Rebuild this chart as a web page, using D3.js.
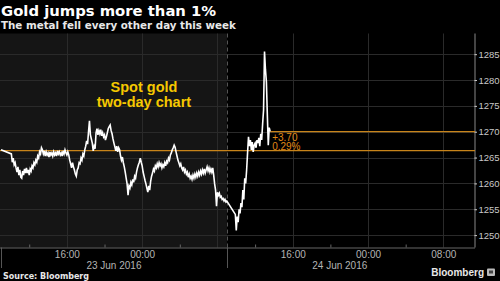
<!DOCTYPE html>
<html><head><meta charset="utf-8">
<script src="https://cdn.jsdelivr.net/npm/d3@7"></script>
<style>html,body{margin:0;padding:0;background:#000;}svg{display:block;}</style>
</head><body>
<script>
// ---- data ----
const title = "Gold jumps more than 1%";
const subtitle = "The metal fell every other day this week";
const source = "Source: Bloomberg";
const annotation = ["Spot gold", "two-day chart"];
const startTime = "2016-06-23 09:00";
const stepMinutes = 6;
const prices = [
1266.5,null,null,null,null,null,null,null,null,null,
null,1265.7,1264.1,1264.9,1263.6,1264.0,1263.0,1262.2,1263.2,1261.6,
1262.6,1261.2,1261.0,1262.4,1261.6,1262.8,1262.0,1263.0,1262.0,1262.6,
1261.6,1262.8,1262.4,1263.4,1263.0,1264.0,1263.6,1264.5,1264.1,1265.3,
1264.9,1266.1,1265.7,1266.9,1266.5,1265.7,1266.3,1265.3,1266.1,1265.5,
1265.9,1265.1,1266.1,1265.5,1265.9,1265.3,1266.1,1265.5,1265.9,1265.3,
1266.3,1265.7,1266.1,1265.5,1265.9,1265.3,1266.3,1265.7,1266.5,1265.9,
1265.5,1266.1,1265.5,1264.5,1263.8,1263.0,1264.0,1263.2,1262.6,1261.8,
1261.4,1262.6,1263.0,1264.0,1263.8,1264.9,1264.5,1265.7,1265.3,1266.5,
1267.2,1268.2,1267.6,1270.0,1272.1,1269.4,1268.6,1267.8,1266.3,1267.2,
1266.7,1269.8,1270.6,1269.4,1270.2,1269.6,1270.4,1269.2,1269.8,1269.0,
1269.4,1268.4,1269.0,1269.8,1270.6,1271.0,1271.3,1270.2,1269.6,1268.6,
1267.8,1267.1,1266.3,1267.2,1266.1,1266.9,1266.5,1265.3,1264.5,1265.1,
1264.0,1263.2,1262.2,1261.0,1259.9,1257.7,1259.5,1259.1,1260.2,1259.7,
1260.8,1260.2,1261.4,1261.0,1262.2,1263.0,1263.6,1264.1,1264.9,1264.1,
1263.4,1262.2,1261.4,1260.6,1259.9,1259.1,1258.3,1259.5,1258.7,1260.4,
1261.4,1262.0,1262.8,1262.4,1263.4,1263.0,1263.8,1263.2,1264.0,1263.4,
1263.8,1263.0,1263.6,1263.2,1264.0,1263.4,1264.3,1264.0,1264.9,1264.5,
1265.5,1265.9,1266.5,1266.9,1267.4,1267.0,1266.1,1265.3,1264.5,1264.0,
1263.4,1263.8,1263.0,1262.6,1263.2,1262.2,1262.6,1261.8,1262.2,1261.2,
1261.8,1261.0,1261.4,1260.8,1261.6,1261.0,1261.8,1261.2,1262.0,1261.4,
1262.2,1261.6,1262.4,1261.8,1262.6,1262.0,1262.8,1262.0,1262.6,1263.2,
1262.4,1263.0,1262.2,1262.8,1262.2,1263.0,1261.6,1259.9,1258.7,1255.6,
1258.3,1257.7,1258.1,1257.3,1257.5,1256.9,1257.1,1256.6,1256.9,1256.4,
1256.6,null,null,null,null,null,null,null,null,1254.0,
1250.9,1253.6,1252.5,1255.0,1254.2,1256.2,1255.4,1258.7,1256.9,1261.0,
1260.0,1262.6,1265.9,1269.0,1267.2,1268.4,1266.5,1268.0,1266.1,1267.4,
1267.8,1266.9,1268.4,1267.8,1268.8,1267.2,1269.6,1268.4,1271.5,1274.2,
1285.5,1282.0,1279.7,1273.3,1267.4,1270.8,1270.03
];
const prevClose = 1266.33;
const yTicks = [1250, 1255, 1260, 1265, 1270, 1275, 1280, 1285];
const xDomain = ["2016-06-23 09:00", "2016-06-25 11:22"];
const majorTicks = ["2016-06-23 16:00","2016-06-24 00:00","2016-06-24 08:00","2016-06-24 16:00","2016-06-25 00:00","2016-06-25 08:00"];
const majorLabels = ["16:00","00:00","","16:00","00:00","08:00"];
const minorTicks = ["2016-06-23 12:00","2016-06-23 20:00","2016-06-24 04:00","2016-06-24 12:00","2016-06-24 20:00","2016-06-25 04:00"];
const sessionLabels = ["23 Jun 2016", "24 Jun 2016"];
const sessionStarts = ["2016-06-23 09:00", "2016-06-24 09:00"];
const sessionEnds = ["2016-06-24 09:00", "2016-06-25 09:00"];

// ---- drawing ----
const W = 500, H = 281;
const pTop = 33.5, pBottom = 247.5, pLeft = 1, pRight = 475;
const parse = d3.timeParse("%Y-%m-%d %H:%M");
const t0 = parse(startTime);
const data = prices.map((v, i) => ({t: new Date(t0.getTime() + i * stepMinutes * 60000), v}))
  .filter(d => d.v !== null);
const last = data[data.length - 1];

const x = d3.scaleTime().domain(xDomain.map(parse)).range([pLeft, pRight]);
const y = d3.scaleLinear().domain([1247.6, 1289]).range([pBottom, pTop]);

const svg = d3.select("body").append("svg").attr("width", W).attr("height", H)
  .style("background", "#000");

const LBL = "'Liberation Sans', Arial, sans-serif";
const HDR = "'DejaVu Sans', sans-serif";
const crisp = v => Math.round(v) + 0.5;

// previous session background
svg.append("rect").attr("x", 0).attr("y", pTop)
  .attr("width", x(parse(sessionEnds[0]))).attr("height", pBottom - pTop)
  .attr("fill", "#151515");

// horizontal grid
svg.append("g").selectAll("line").data(yTicks).join("line")
  .attr("x1", 0).attr("x2", pRight).attr("y1", d => crisp(y(d))).attr("y2", d => crisp(y(d)))
  .attr("stroke", "#2a2a2a").attr("stroke-width", 1);
// vertical grid
svg.append("g").selectAll("line").data(majorTicks).join("line")
  .attr("x1", d => crisp(x(parse(d)))).attr("x2", d => crisp(x(parse(d))))
  .attr("y1", pTop).attr("y2", pBottom)
  .attr("stroke", "#2a2a2a").attr("stroke-width", 1);

// session divider
const xs = crisp(x(parse(sessionStarts[1])));
svg.append("line").attr("x1", xs).attr("x2", xs).attr("y1", pTop).attr("y2", pBottom)
  .attr("stroke", "#555").attr("stroke-dasharray", "4,3");
[crisp(x(parse(sessionStarts[0]))), xs].forEach(xx => {
  svg.append("line").attr("x1", xx).attr("x2", xx).attr("y1", pBottom).attr("y2", 268)
    .attr("stroke", "#555");
});

// x axis
const gx = svg.append("g").attr("transform", `translate(0,${pBottom})`)
  .call(d3.axisBottom(x).tickValues(majorTicks.map(parse))
    .tickFormat((d, i) => majorLabels[i]).tickSize(0).tickPadding(3));
gx.select(".domain").attr("stroke", "#666").attr("d", `M0,0.5H${pRight}`);
gx.selectAll("text").attr("fill", "#b4b4b4").style("font", `10px ${LBL}`);
const gm = svg.append("g").attr("transform", `translate(0,${pBottom})`)
  .call(d3.axisBottom(x).tickValues(minorTicks.map(parse)).tickSize(-3).tickFormat(""));
gm.select(".domain").remove();
gm.selectAll("line").attr("stroke", "#666");

// session date labels
svg.append("g").selectAll("text").data(sessionLabels).join("text")
  .attr("x", (d, i) => (x(parse(sessionStarts[i])) + x(parse(sessionEnds[i]))) / 2)
  .attr("y", 268.5).attr("text-anchor", "middle")
  .attr("fill", "#b4b4b4").style("font", `10px ${LBL}`).text(d => d);

// y axis (right)
const gy = svg.append("g").attr("transform", `translate(${pRight - 0.5},0)`)
  .call(d3.axisRight(y).tickValues(yTicks).tickFormat(d3.format("d")).tickSize(2.5).tickPadding(1.5));
gy.select(".domain").attr("stroke", "#888").attr("d", `M0.5,${pTop}V${pBottom}`);
gy.selectAll(".tick line").attr("stroke", "#ccc");
gy.selectAll("text").attr("fill", "#c8c8c8").style("font", `9.5px ${LBL}`);

// reference lines
const orange = "#c8841a";
svg.append("line").attr("x1", 0).attr("x2", pRight).attr("y1", y(prevClose)).attr("y2", y(prevClose))
  .attr("stroke", orange).attr("stroke-width", 1.2);
svg.append("line").attr("x1", x(last.t)).attr("x2", pRight).attr("y1", y(last.v)).attr("y2", y(last.v))
  .attr("stroke", orange).attr("stroke-width", 1.2);

// price line
svg.append("path").datum(data)
  .attr("d", d3.line().x(d => x(d.t)).y(d => y(d.v)))
  .attr("fill", "none").attr("stroke", "#fff").attr("stroke-width", 1.6)
  .attr("stroke-linejoin", "miter");

// change labels
const chg = last.v - prevClose;
svg.append("text").attr("x", x(last.t) + 2).attr("y", y(last.v) + 9)
  .attr("fill", "#e08a16").style("font", `10px ${LBL}`)
  .text((chg >= 0 ? "+" : "") + chg.toFixed(2));
svg.append("text").attr("x", x(last.t) + 2).attr("y", y(prevClose) - 0.5)
  .attr("fill", "#e08a16").style("font", `10px ${LBL}`)
  .text((chg / prevClose * 100).toFixed(2) + "%");

// annotation
svg.append("text").attr("x", 144).attr("text-anchor", "middle")
  .attr("fill", "#f5c800").style("font", `bold 14.5px ${LBL}`)
  .selectAll("tspan").data(annotation).join("tspan")
  .attr("x", 144).attr("y", (d, i) => 92 + i * 15).text(d => d);

// titles
svg.append("text").attr("x", 1).attr("y", 16).attr("fill", "#fff")
  .style("font", `bold 14.8px ${HDR}`).text(title);
svg.append("text").attr("x", 1).attr("y", 28.5).attr("fill", "#e8e8e8")
  .style("font", `bold 10.3px ${HDR}`).text(subtitle);
svg.append("text").attr("x", 3).attr("y", 279).attr("fill", "#e8e8e8")
  .style("font", `bold 8px ${HDR}`).text(source);

// Bloomberg logo
svg.append("text").attr("x", 484).attr("y", 276).attr("text-anchor", "end")
  .attr("fill", "#e8e8e8").style("font", `bold 10px ${LBL}`).text("Bloomberg");
svg.append("rect").attr("x", 487).attr("y", 268.5).attr("width", 8).attr("height", 7.5)
  .attr("rx", 1).attr("fill", "#bbb");
svg.append("rect").attr("x", 489).attr("y", 270.5).attr("width", 4).attr("height", 3)
  .attr("fill", "#444");
</script>
</body></html>
